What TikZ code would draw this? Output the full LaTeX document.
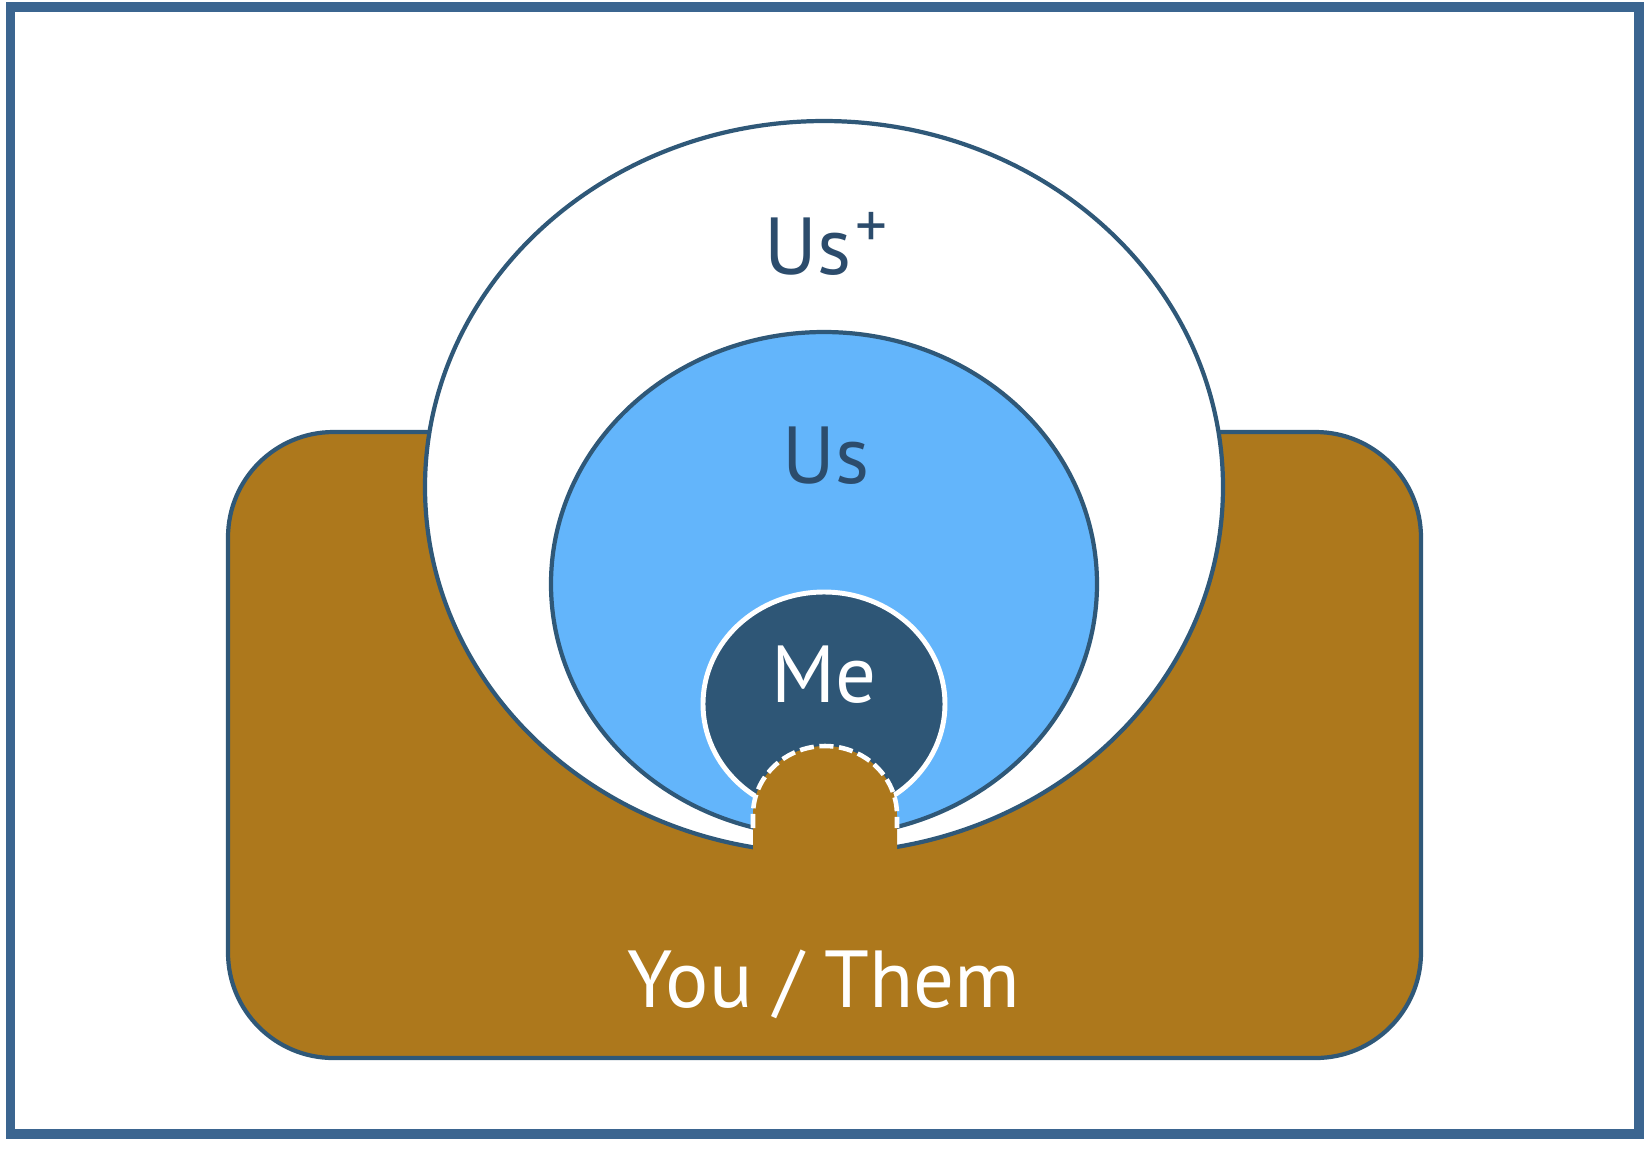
\documentclass[tikz,border=0pt]{standalone}
\usepackage{fontspec}
\setmainfont{PT Sans}
\definecolor{framecol}{HTML}{3B6590}
\definecolor{edgecol}{HTML}{2F5878}
\definecolor{browncol}{HTML}{AD781C}
\definecolor{skycol}{HTML}{63B5FB}
\definecolor{mecol}{HTML}{2E5676}
\definecolor{inkcol}{HTML}{2C4C6C}
\tikzset{
  label text/.style={font=\fontsize{23}{26}\selectfont},
  ring/.style={draw=edgecol,line width=1.2pt},
}
\newcommand{\plusmark}{\raisebox{7.6pt}{\fontsize{18}{18}\selectfont +}}

\begin{document}
\begin{tikzpicture}[x=0.01cm,y=-0.01cm]
    \useasboundingbox (0,0) rectangle (1650,1150);
    % Rahmen
    \draw[framecol,line width=2.8pt] (10.5,7) rectangle (1639,1134);
    % You / Them
    \draw[ring,fill=browncol,rounded corners=30pt] (228,432) rectangle (1421,1058);
    % Us+ / Us / Me
    \draw[ring,fill=white] (824,487) ellipse [x radius=399,y radius=366];
    \draw[ring,fill=skycol] (824,584) ellipse [x radius=273,y radius=252];
    \draw[draw=white,line width=1.4pt,fill=mecol] (824,704) ellipse [x radius=121,y radius=112];
    % Ausbuchtung
    \fill[browncol] (753,862) -- (753,815) arc[start angle=180,end angle=360,x radius=72,y radius=69] -- (897,862) -- cycle;
    \draw[white,line width=1.3pt,dash pattern=on 4pt off 1.6pt] (753,828) -- (753,815) arc[start angle=180,end angle=360,x radius=72,y radius=69] -- (897,828);
    % Beschriftung
    \node[label text,text=inkcol] (usplus) at (826,244) {Us\kern1pt\plusmark};
    \node[label text,text=inkcol] (us) at (826,456) {Us};
    \node[label text,text=white] (me) at (824,675) {Me};
    \node[label text,text=white] (them) at (824,984) {You / Them};
\end{tikzpicture}
\end{document}
